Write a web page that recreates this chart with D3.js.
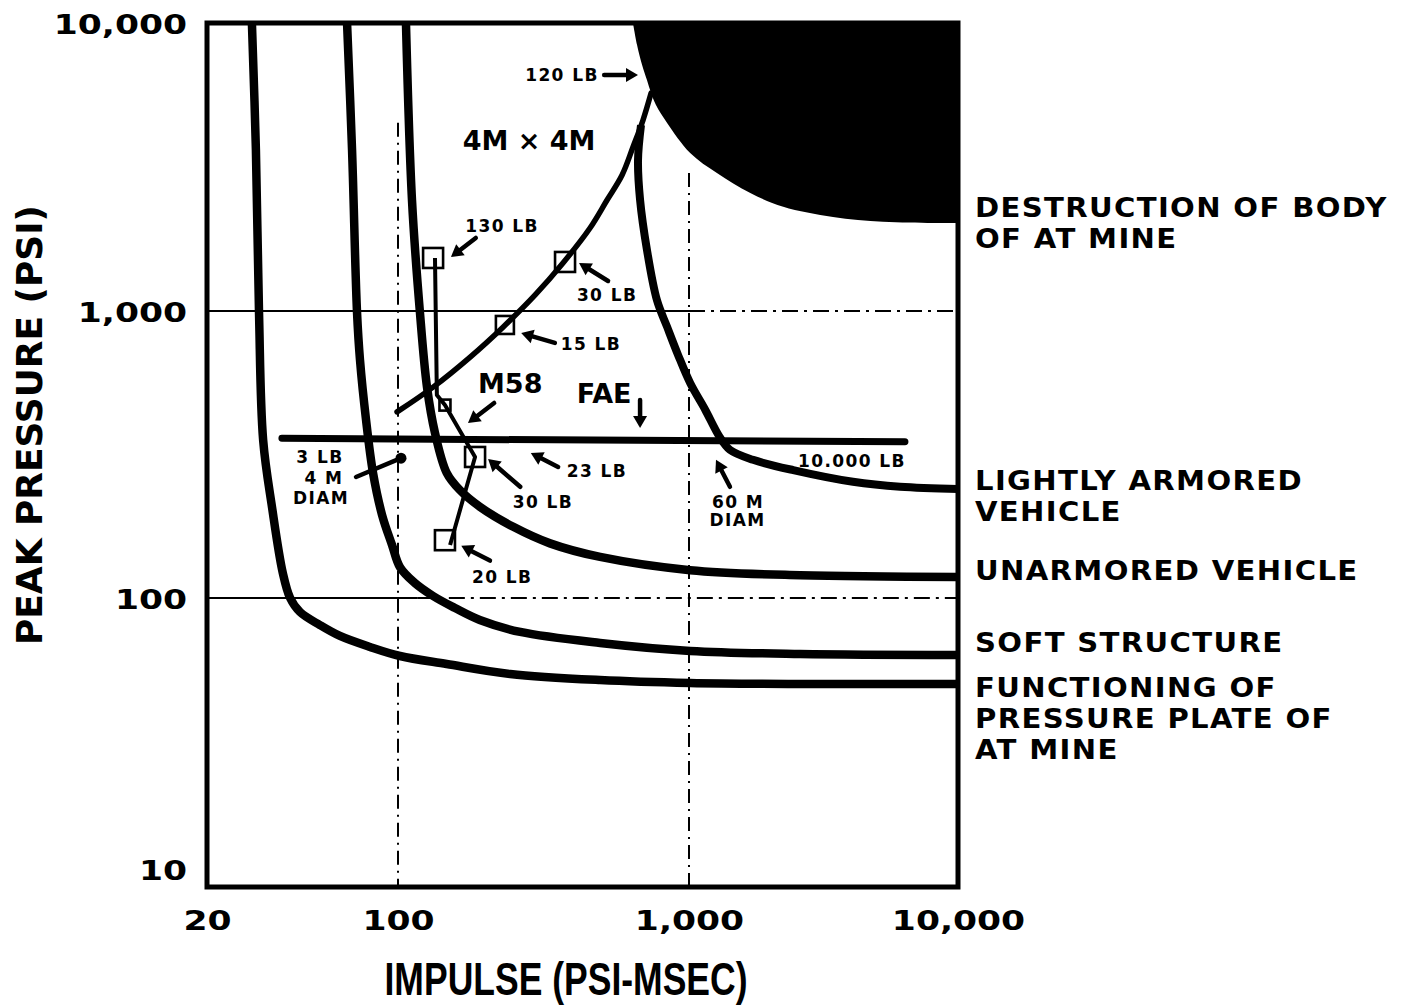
<!DOCTYPE html>
<html>
<head>
<meta charset="utf-8">
<script src="https://cdn.jsdelivr.net/npm/d3@7"></script>
<style>
  html, body { margin: 0; padding: 0; background: #fff; }
  svg { display: block; }
  text { font-family: "DejaVu Sans", Verdana, sans-serif; font-weight: bold; fill: #000; }
</style>
</head>
<body>
<svg id="chart" width="1404" height="1006"></svg>
<script>
// ---- Axis ticks ----
const impulseTicks = [20, 100, 1000, 10000];
const impulseTickLabels = ["20", "100", "1,000", "10,000"];
const pressureTicks = [10, 100, 1000, 10000];
const pressureTickLabels = ["10", "100", "1,000", "10,000"];

// ---- Damage threshold curves: [impulse (psi-msec), peak pressure (psi)] ----
const pressurePlateCurve = [
  [29.2, 10000], [30.2, 3620], [31.0, 990], [32.1, 355], [34.6, 207], [37.9, 122],
  [40.3, 100], [43.8, 89.4], [51.8, 80.6], [61.3, 73.9], [79, 67.7], [101.6, 63.0],
  [147, 59.1], [243, 54.6], [495, 52.0], [1010, 50.8], [2590, 50.4], [10000, 50.4]
];
const softStructureCurve = [
  [65.1, 10000], [67.9, 3620], [70.8, 990], [72.6, 675], [76.4, 417], [81.0, 273],
  [87.4, 195], [95.1, 153], [101.6, 128], [114, 113], [132, 101.6], [157, 92.3],
  [191, 83.9], [263, 76.3], [495, 69.9], [1010, 65.6], [2590, 64.0], [10000, 63.5]
];
const unarmoredCurve = [
  [106.5, 10000], [111.7, 2430], [119, 984], [125.8, 543], [134, 376], [147, 273],
  [163, 238], [191, 208], [249, 177], [333, 155], [495, 139], [1010, 125],
  [2590, 120], [10000, 118.4]
];
const lightArmorCurve = [
  [684, 4420], [668, 3340], [679, 2430], [717, 1630], [776, 1090], [841, 880],
  [917, 703], [1010, 561], [1150, 452], [1300, 364], [1420, 328], [1730, 303],
  [2440, 279], [4070, 254], [6090, 244], [10000, 240]
];
// lower-left edge of the mine-body destruction region
const mineBodyBoundary = [
  [642, 10000], [663, 8390], [690, 7150], [717, 6340], [741, 5710], [770, 5190],
  [841, 4500], [1010, 3540], [1270, 3015], [1690, 2570], [2240, 2300], [3430, 2120],
  [5260, 2040], [8070, 2020], [10000, 2020]
];

// ---- Charge loadings ----
const fourByFourLine = [
  [99.2, 445], [132, 543], [177, 691], [230, 880], [296, 1137], [369, 1468],
  [457, 1942], [523, 2429], [589, 2967], [642, 3710], [695, 4604], [741, 5710]
];
const m58Line = [[134, 1528], [136, 510], [145, 470], [184, 310], [151, 153]];
const faeLine = [[37.6, 360], [6350, 350]];
const chargeBoxes = [
  { name: "130 LB", impulse: 132, pressure: 1528 },
  { name: "30 LB", impulse: 375, pressure: 1480 },
  { name: "15 LB", impulse: 233, pressure: 894 },
  { name: "M58 start", impulse: 145, pressure: 470 },
  { name: "30 LB", impulse: 184, pressure: 310 },
  { name: "20 LB", impulse: 145, pressure: 159 }
];
const threeLbPoint = [102.4, 307];

// ---- Annotations (anchored in data space) ----
const smallLabels = [
  { text: "120 LB", at: [366, 6600] },
  { text: "130 LB", at: [228, 1973] },
  { text: "30 LB", at: [523, 1137] },
  { text: "15 LB", at: [460, 767] },
  { text: "23 LB", at: [483, 277] },
  { text: "30 LB", at: [315, 216] },
  { text: "20 LB", at: [228, 118.4] },
  { text: "10.000 LB", at: [4036, 300] },
  { text: "60 M", at: [1521, 216] },
  { text: "DIAM", at: [1515, 187] },
  { text: "3 LB", at: [51.8, 310] },
  { text: "4 M", at: [53.6, 262] },
  { text: "DIAM", at: [52.3, 223] }
];
const bigLabels = [
  { text: "4M × 4M", at: [282, 3925] },
  { text: "M58", at: [243, 561] },
  { text: "FAE", at: [511, 518] }
];
const pointers = [
  { from: [511, 6600], to: [668, 6600] },
  { from: [185, 1793], to: [152, 1540] },
  { from: [527, 1271], to: [419, 1468] },
  { from: [346, 774], to: [265, 838] },
  { from: [214, 478], to: [174, 407] },
  { from: [679, 490], to: [679, 391] },
  { from: [355, 286], to: [286, 320] },
  { from: [263, 244], to: [204, 305] },
  { from: [207, 135], to: [165, 152] },
  { from: [1420, 244], to: [1260, 303] }
];
const categoryLabels = [
  { lines: ["DESTRUCTION OF BODY", "OF AT MINE"], pressure: 2278 },
  { lines: ["LIGHTLY ARMORED", "VEHICLE"], pressure: 256 },
  { lines: ["UNARMORED VEHICLE"], pressure: 125 },
  { lines: ["SOFT STRUCTURE"], pressure: 70 },
  { lines: ["FUNCTIONING OF", "PRESSURE PLATE OF", "AT MINE"], pressure: 48.8 }
];

// ---- Scales (hand-ruled log paper, so each decade is mapped on its own) ----
const x = d3.scaleLog().domain(impulseTicks).range([207, 398, 689, 958]);
const y = d3.scaleLog().domain(pressureTicks).range([887, 598, 311, 23]);

const svg = d3.select("#chart");
const smooth = d3.line().x(d => x(d[0])).y(d => y(d[1])).curve(d3.curveCatmullRom.alpha(0.5));
const straight = d3.line().x(d => x(d[0])).y(d => y(d[1]));

// ---- Grid ----
const grid = svg.append("g").attr("stroke", "#000").attr("stroke-width", 2).attr("fill", "none");
[{ p: 1000, solidTo: 1000 }, { p: 100, solidTo: 117 }].forEach(r => {
  grid.append("line").attr("x1", x(20)).attr("x2", x(r.solidTo)).attr("y1", y(r.p)).attr("y2", y(r.p));
  grid.append("line").attr("x1", x(r.solidTo)).attr("x2", x(10000)).attr("y1", y(r.p)).attr("y2", y(r.p))
    .attr("stroke-dasharray", "16,6,3,6");
});
[{ i: 100, from: 4500 }, { i: 1000, from: 3015 }].forEach(r => {
  grid.append("line").attr("x1", x(r.i)).attr("x2", x(r.i)).attr("y1", y(r.from)).attr("y2", y(10))
    .attr("stroke-dasharray", "14,6,2,6");
});

// ---- Destruction region ----
svg.append("path")
  .attr("d", smooth(mineBodyBoundary) + `L${x(10000)},${y(10000)}Z`)
  .attr("fill", "#000");

// ---- Threshold curves ----
const curves = svg.append("g").attr("fill", "none").attr("stroke", "#000");
[pressurePlateCurve, softStructureCurve, unarmoredCurve].forEach(c => {
  curves.append("path").attr("d", smooth(c)).attr("stroke-width", 8.5);
});
curves.append("path").attr("d", smooth(lightArmorCurve)).attr("stroke-width", 8);
curves.append("path").attr("d", smooth(fourByFourLine)).attr("stroke-width", 5.5).attr("stroke-linecap", "round");
curves.append("path").attr("d", straight(m58Line)).attr("stroke-width", 4).attr("stroke-linejoin", "round");
curves.append("path").attr("d", straight(faeLine)).attr("stroke-width", 7).attr("stroke-linecap", "round");

// ---- Charge boxes ----
const boxSize = [20, 20, 18, 11, 20, 20];
svg.append("g").selectAll("rect").data(chargeBoxes).join("rect")
  .attr("x", (d, i) => x(d.impulse) - boxSize[i] / 2)
  .attr("y", (d, i) => y(d.pressure) - boxSize[i] / 2)
  .attr("width", (d, i) => boxSize[i])
  .attr("height", (d, i) => boxSize[i])
  .attr("fill", "none").attr("stroke", "#000").attr("stroke-width", 2.6);

// ---- Pointer arrows ----
const arrows = svg.append("g");
function pointer(from, to, head) {
  const x0 = x(from[0]), y0 = y(from[1]), x1 = x(to[0]), y1 = y(to[1]);
  const a = Math.atan2(y1 - y0, x1 - x0);
  const L = head ? 12 : 0, W = 7;
  const bx = x1 - L * Math.cos(a), by = y1 - L * Math.sin(a);
  arrows.append("line").attr("x1", x0).attr("y1", y0)
    .attr("x2", head ? bx + 2 * Math.cos(a) : x1).attr("y2", head ? by + 2 * Math.sin(a) : y1)
    .attr("stroke", "#000").attr("stroke-width", 4.5).attr("stroke-linecap", "round");
  if (head) {
    arrows.append("path")
      .attr("d", `M${x1},${y1}L${bx - W * Math.sin(a)},${by + W * Math.cos(a)}L${bx + W * Math.sin(a)},${by - W * Math.cos(a)}Z`)
      .attr("fill", "#000");
  }
}
pointers.forEach(p => pointer(p.from, p.to, true));
pointer([70.2, 264], threeLbPoint, false);
arrows.append("circle").attr("cx", x(threeLbPoint[0])).attr("cy", y(threeLbPoint[1])).attr("r", 5.5).attr("fill", "#000");

// ---- Annotation text ----
svg.append("g").selectAll("text").data(smallLabels).join("text")
  .attr("x", d => x(d.at[0])).attr("y", d => y(d.at[1])).attr("dy", "0.36em")
  .attr("text-anchor", "middle").attr("font-size", 17).attr("letter-spacing", 1.4)
  .text(d => d.text);
svg.append("g").selectAll("text").data(bigLabels).join("text")
  .attr("x", d => x(d.at[0])).attr("y", d => y(d.at[1])).attr("dy", "0.36em")
  .attr("text-anchor", "middle").attr("font-size", 27)
  .text(d => d.text);

// ---- Category labels on the right (slightly extended lettering) ----
const catG = svg.append("g");
const lineGap = 31;
categoryLabels.forEach(c => {
  c.lines.forEach((line, k) => {
    catG.append("text")
      .attr("transform", `translate(${x(10000) + 17},${y(c.pressure) + k * lineGap}) scale(1.12,1)`)
      .attr("dy", "0.36em")
      .attr("font-size", 26).attr("letter-spacing", 1.2)
      .text(line);
  });
});

// ---- Axes ----
const stretch = 1.28;
const xAxis = d3.axisBottom(x).tickValues(impulseTicks).tickFormat((d, i) => impulseTickLabels[i]).tickSize(0);
const gx = svg.append("g").attr("transform", `translate(0,${y(10)})`).call(xAxis);
gx.select(".domain").remove();
gx.selectAll("text").attr("y", 43).attr("dy", 0)
  .attr("font-size", 27).attr("font-family", "DejaVu Sans").attr("font-weight", "bold").attr("fill", "#000")
  .attr("transform", `scale(${stretch},1)`);

const yAxis = d3.axisLeft(y).tickValues(pressureTicks).tickFormat((d, i) => pressureTickLabels[i]).tickSize(0);
const gy = svg.append("g").attr("transform", `translate(${x(20)},0)`).call(yAxis);
gy.select(".domain").remove();
gy.selectAll("text").attr("x", -20 / stretch).attr("dy", 0)
  .attr("y", d => d === 10 ? -8 : 10)
  .attr("font-size", 27).attr("font-family", "DejaVu Sans").attr("font-weight", "bold").attr("fill", "#000")
  .attr("transform", `scale(${stretch},1)`);

// ---- Frame ----
svg.append("rect")
  .attr("x", x(20)).attr("y", y(10000))
  .attr("width", x(10000) - x(20)).attr("height", y(10) - y(10000))
  .attr("fill", "none").attr("stroke", "#000").attr("stroke-width", 5);

// ---- Axis titles ----
svg.append("text")
  .attr("transform", "translate(42,425) rotate(-90)")
  .attr("text-anchor", "middle").attr("font-size", 35)
  .attr("textLength", 440).attr("lengthAdjust", "spacingAndGlyphs")
  .text("PEAK PRESSURE (PSI)");
svg.append("text")
  .attr("x", 566).attr("y", 995)
  .attr("text-anchor", "middle").attr("font-size", 46)
  .style("font-family", "'Liberation Sans Narrow', 'Liberation Sans', Arial, sans-serif")
  .attr("textLength", 363).attr("lengthAdjust", "spacingAndGlyphs")
  .text("IMPULSE (PSI-MSEC)");
</script>
</body>
</html>
